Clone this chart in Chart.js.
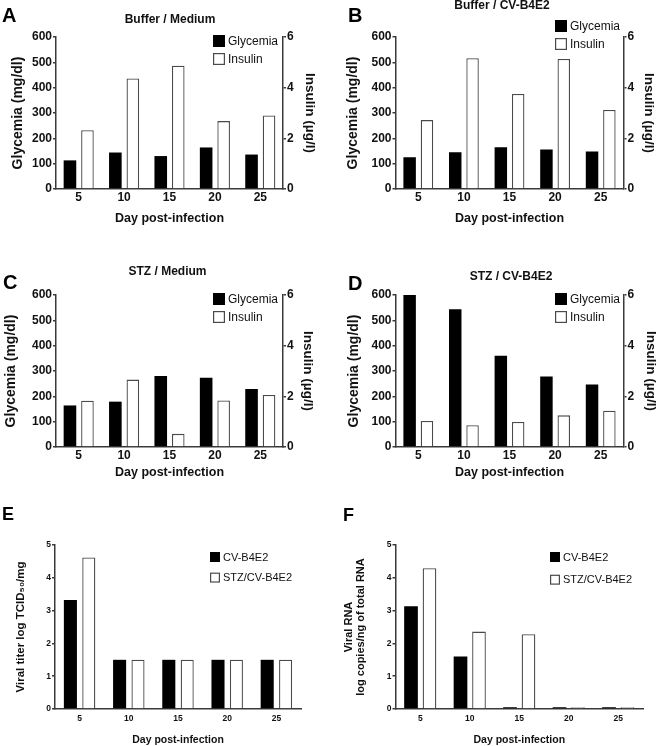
<!DOCTYPE html>
<html><head><meta charset="utf-8">
<script src="https://cdn.jsdelivr.net/npm/chart.js@4.4.1/dist/chart.umd.min.js"></script>
<style>
html,body{margin:0;padding:0;background:#fff;}
body{width:656px;height:746px;position:relative;overflow:hidden;}
canvas{position:absolute;}
</style></head><body>
<canvas id="cA" width="328" height="232" style="left:0;top:0"></canvas>
<canvas id="cB" width="334" height="232" style="left:328px;top:0"></canvas>
<canvas id="cC" width="328" height="230" style="left:0;top:258px"></canvas>
<canvas id="cD" width="334" height="230" style="left:328px;top:258px"></canvas>
<canvas id="cE" width="328" height="250" style="left:0;top:496px"></canvas>
<canvas id="cF" width="328" height="250" style="left:328px;top:496px"></canvas>
<script>
// ---------- data ----------
const days = ['5', '10', '15', '20', '25'];
const metabolicNames = ['Glycemia', 'Insulin'];
const viralNames = ['CV-B4E2', 'STZ/CV-B4E2'];

const glycemiaBufferMedium = [113, 144, 130, 164, 136];
const insulinBufferMedium  = [2.32, 4.36, 4.87, 2.68, 2.90];
const glycemiaBufferCV     = [125, 145, 165, 156, 148];
const insulinBufferCV      = [2.72, 5.16, 3.75, 5.13, 3.12];
const glycemiaStzMedium    = [164, 179, 280, 273, 229];
const insulinStzMedium     = [1.83, 2.66, 0.52, 1.84, 2.05];
const glycemiaStzCV        = [600, 544, 360, 278, 247];
const insulinStzCV         = [1.03, 0.86, 0.99, 1.25, 1.43];
const viralTiterCV         = [3.32, 1.5, 1.5, 1.5, 1.5];
const viralTiterStzCV      = [4.62, 1.5, 1.5, 1.5, 1.5];
const viralRnaCV           = [3.13, 1.60, 0.05, 0.05, 0.05];
const viralRnaStzCV        = [4.29, 2.36, 2.28, 0.05, 0.05];

const glycemiaMax = 600, glycemiaStep = 100;
const insulinMax = 6, insulinStep = 2;
const viralMax = 5, viralStep = 1;

// ---------- styling ----------
const FONT = '"Liberation Sans", Arial, Helvetica, sans-serif';
const AX = '#3a3a3a';
const TXT = '#111';

const decor = {
  id: 'decor',
  afterDraw(chart, args, o) {
    const ctx = chart.ctx;
    ctx.save();
    ctx.fillStyle = '#000';
    ctx.textBaseline = 'middle';
    ctx.textAlign = 'left';
    ctx.font = 'bold ' + o.letterSize + 'px ' + FONT;
    ctx.fillText(o.letter, o.letterX, o.letterY);
    if (o.title) {
      ctx.textAlign = 'center';
      ctx.font = 'bold ' + o.titleSize + 'px ' + FONT;
      ctx.fillStyle = TXT;
      ctx.fillText(o.title, o.titleX, o.titleY);
    }
    ctx.textAlign = 'left';
    chart.data.datasets.forEach((ds, i) => {
      const y = o.legY + i * o.legGap, s = o.box, x = o.legX;
      ctx.fillStyle = ds.backgroundColor;
      ctx.fillRect(x, y - s / 2, s, s);
      if (ds.borderWidth) {
        ctx.strokeStyle = ds.borderColor;
        ctx.lineWidth = 1.2;
        ctx.strokeRect(x + 0.6, y - s / 2 + 0.6, s - 1.2, s - 1.2);
      }
      ctx.fillStyle = TXT;
      ctx.font = o.legSize + 'px ' + FONT;
      ctx.fillText(ds.label, x + s + o.legTextGap, y + 0.5);
    });
    ctx.restore();
  }
};

function buildPanel(id, P) {
  const datasets = P.series.map((s, i) => ({
    label: s.label, data: s.data, yAxisID: s.axis,
    backgroundColor: i === 0 ? '#000' : '#fff',
    borderColor: i === 0 ? '#000' : '#4a4a4a',
    borderWidth: i === 0 ? 0 : 1.3,
    categoryPercentage: P.cat, barPercentage: P.bar
  }));
  const tickFont = {family: FONT, weight: 'bold', size: P.tickSize};
  const yGrid = {display: true, drawOnChartArea: false, drawTicks: true, tickLength: 3, color: AX, lineWidth: 1.5};
  const border = {display: true, color: AX, width: 1.5};
  const scales = {
    x: {
      grid: {display: false, drawTicks: false}, border: border,
      ticks: {color: TXT, font: tickFont, padding: P.xTickPad, maxRotation: 0, autoSkip: false},
      title: {display: true, text: 'Day post-infection', color: TXT,
        font: {family: FONT, weight: 'bold', size: P.xTitleSize, lineHeight: 1},
        padding: {top: 0, bottom: P.xTitlePad}},
      afterFit: s => { s.height = P.xH; }
    },
    y: {
      position: 'left', min: 0, max: P.yMax,
      ticks: {stepSize: P.yStep, color: TXT, font: tickFont, padding: 1},
      grid: yGrid, border: border,
      title: {display: true, text: P.yTitle, color: TXT,
        font: {family: FONT, weight: 'bold', size: P.yTitleSize, lineHeight: P.yTitleLH},
        padding: {top: P.yTitlePad, bottom: 0}},
      afterFit: s => { s.width = P.yW; }
    }
  };
  if (P.y1Title) {
    scales.y1 = {
      position: 'right', min: 0, max: P.y1Max,
      ticks: {stepSize: P.y1Step, color: TXT, font: tickFont, padding: 1},
      grid: yGrid, border: border,
      title: {display: true, text: P.y1Title, color: TXT,
        font: {family: FONT, weight: 'bold', size: P.y1TitleSize, lineHeight: 1},
        padding: {top: P.y1TitlePad, bottom: 0}},
      afterFit: s => { s.width = P.y1W; }
    };
  }
  return new Chart(document.getElementById(id), {
    type: 'bar',
    data: {labels: days, datasets: datasets},
    options: {
      responsive: false, animation: false, events: [],
      layout: {padding: {left: P.padL, right: P.padR, top: P.top, bottom: 0}},
      plugins: {legend: {display: false}, tooltip: {enabled: false}, title: {display: false}, decor: P.decor},
      scales: scales
    },
    plugins: [decor]
  });
}

const metaBase = {
  yMax: glycemiaMax, yStep: glycemiaStep, y1Max: insulinMax, y1Step: insulinStep,
  yTitle: 'Glycemia (mg/dl)', y1Title: 'Insulin (\u00b5g/l)',
  tickSize: 12, xTitleSize: 12.5, yTitleSize: 14, yTitleLH: 1, y1TitleSize: 13.5,
  xTickPad: 1, top: 37, cat: 0.771, bar: 0.72
};
const legMeta = {letterSize: 20, titleSize: 12, box: 12, legGap: 18, legSize: 12, legTextGap: 3};

buildPanel('cA', Object.assign({}, metaBase, {
  series: [{label: metabolicNames[0], data: glycemiaBufferMedium, axis: 'y'}, {label: metabolicNames[1], data: insulinBufferMedium, axis: 'y1'}],
  padL: 4, yW: 52, padR: 0, y1W: 45, yTitlePad: 7, y1TitlePad: 11.25, xH: 43, xTitlePad: 6.75,
  decor: Object.assign({}, legMeta, {letter: 'A', letterX: 2, letterY: 16, title: 'Buffer / Medium', titleX: 170, titleY: 20, legX: 213, legY: 41})
}));
buildPanel('cB', Object.assign({}, metaBase, {
  series: [{label: metabolicNames[0], data: glycemiaBufferCV, axis: 'y'}, {label: metabolicNames[1], data: insulinBufferCV, axis: 'y1'}],
  padL: 4, yW: 63.5, padR: 0, y1W: 38.5, yTitlePad: 13.7, y1TitlePad: 6.25, xH: 43, xTitlePad: 6.75, cat: 0.76,
  decor: Object.assign({}, legMeta, {letter: 'B', letterX: 20, letterY: 16, title: 'Buffer / CV-B4E2', titleX: 174, titleY: 6, legX: 227, legY: 26})
}));
buildPanel('cC', Object.assign({}, metaBase, {
  series: [{label: metabolicNames[0], data: glycemiaStzMedium, axis: 'y'}, {label: metabolicNames[1], data: insulinStzMedium, axis: 'y1'}],
  padL: 4, yW: 52, padR: 0, y1W: 45, yTitlePad: 0.5, y1TitlePad: 13.25, xH: 41, xTitlePad: 8.75,
  decor: Object.assign({}, legMeta, {letter: 'C', letterX: 3, letterY: 25, title: 'STZ / Medium', titleX: 167.5, titleY: 14, legX: 213, legY: 41})
}));
buildPanel('cD', Object.assign({}, metaBase, {
  series: [{label: metabolicNames[0], data: glycemiaStzCV, axis: 'y'}, {label: metabolicNames[1], data: insulinStzCV, axis: 'y1'}],
  padL: 4, yW: 63.5, padR: 0, y1W: 38.5, yTitlePad: 15, y1TitlePad: 4.25, xH: 41, xTitlePad: 8.75, cat: 0.76,
  decor: Object.assign({}, legMeta, {letter: 'D', letterX: 20, letterY: 26, title: 'STZ / CV-B4E2', titleX: 183, titleY: 19, legX: 227, legY: 41})
}));

const viralBase = {
  yMax: viralMax, yStep: viralStep, tickSize: 8.5, xTitleSize: 10.5, xTickPad: 5,
  top: 49, xH: 37, xTitlePad: 0.75, padL: 4
};
const legViral = {letterSize: 18, box: 10, legSize: 11, legTextGap: 3};

buildPanel('cE', Object.assign({}, viralBase, {
  series: [{label: viralNames[0], data: viralTiterCV, axis: 'y'}, {label: viralNames[1], data: viralTiterStzCV, axis: 'y'}],
  yTitle: 'Viral titer log TCID\u2085\u2080/mg', yTitleSize: 11.5, yTitleLH: 1, yTitlePad: 11.25,
  yW: 51, padR: 27, cat: 0.748, bar: 0.71,
  decor: Object.assign({}, legViral, {letter: 'E', letterX: 2, letterY: 19, legX: 210, legY: 61, legGap: 20.6})
}));
buildPanel('cF', Object.assign({}, viralBase, {
  series: [{label: viralNames[0], data: viralRnaCV, axis: 'y'}, {label: viralNames[1], data: viralRnaStzCV, axis: 'y'}],
  yTitle: ['Viral RNA', 'log copies/ng of total RNA'], yTitleSize: 11, yTitleLH: 1.1, yTitlePad: 10.95,
  yW: 63.5, padR: 13, cat: 0.747, bar: 0.74,
  decor: Object.assign({}, legViral, {letter: 'F', letterX: 15, letterY: 20, legX: 222, legY: 61, legGap: 22.7})
}));
</script>
</body></html>
